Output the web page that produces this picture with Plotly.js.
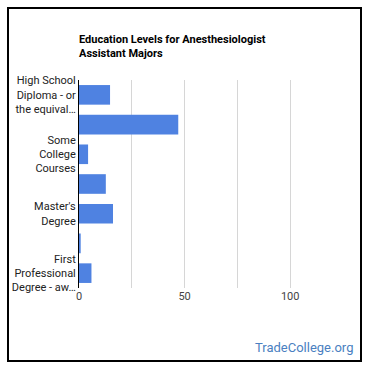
<!DOCTYPE html>
<html>
<head>
<meta charset="utf-8">
<script src="https://cdn.plot.ly/plotly-3.0.1.min.js"></script>
<style>
html,body{margin:0;padding:0;background:#fff;}
#wrap{position:relative;width:370px;height:370px;}
#chart{position:absolute;left:0;top:0;width:370px;height:370px;}
#frame{position:absolute;left:7px;top:7px;width:351px;height:351px;border:2px solid #000;pointer-events:none;}
</style>
</head>
<body>
<div id="wrap"><div id="chart"></div><div id="frame"></div></div>
<script>
const categories = [
  "High School Diploma - or the equivalent",
  "Post-Secondary Certificate",
  "Some College Courses",
  "Bachelor's Degree",
  "Master's Degree",
  "Post-Master's Certificate",
  "First Professional Degree - awarded"
];
const values = [14.7, 47.0, 4.3, 12.7, 16.1, 0.8, 5.9];
const shownCategories = [categories[0], categories[2], categories[4], categories[6]];
const shownLabels = [
  "High School<br>Diploma - or<br>the equival…",
  "Some<br>College<br>Courses",
  "Master's<br>Degree",
  "First<br>Professional<br>Degree - aw…"
];
const xTickVals = [0, 25, 50, 75, 100];
const xTickText = ["0", "", "50", "", "100"];

const trace = {
  type: "bar",
  orientation: "h",
  x: values,
  y: categories,
  marker: {color: "#4f82e1"},
  hoverinfo: "none"
};

const layout = {
  width: 370, height: 370,
  margin: {l: 79, r: 27, t: 80, b: 82},
  paper_bgcolor: "#fff", plot_bgcolor: "#fff",
  font: {family: "Roboto, Arial, sans-serif", size: 11, color: "#222"},
  bargap: 0.34,
  showlegend: false,
  title: {
    text: "<b>Education Levels for Anesthesiologist<br>Assistant Majors</b>",
    font: {family: "Roboto, Arial, sans-serif", size: 11, color: "#000"},
    xref: "paper", x: 0, xanchor: "left",
    yref: "container", y: 0.885, yanchor: "top"
  },
  xaxis: {
    range: [0, 125],
    tickvals: xTickVals, ticktext: xTickText,
    showgrid: true, gridcolor: "#d6d6d6", gridwidth: 1,
    zeroline: false, showline: false, ticks: "",
    tickfont: {size: 11, color: "#444"},
    fixedrange: true
  },
  yaxis: {
    type: "category",
    categoryorder: "array", categoryarray: categories,
    autorange: "reversed",
    tickvals: shownCategories, ticktext: shownLabels,
    showgrid: false, zeroline: false,
    showline: true, linecolor: "#000", linewidth: 1,
    ticks: "", ticklabelstandoff: 0,
    tickfont: {size: 11, color: "#222"},
    fixedrange: true
  },
  annotations: [{
    text: "TradeCollege.org",
    xref: "paper", yref: "paper", x: 1, y: 0,
    xanchor: "right", yanchor: "middle",
    xshift: 12, yshift: -59,
    showarrow: false,
    font: {family: "Roboto, Arial, sans-serif", size: 13, color: "#4a7fc1"}
  }]
};

Plotly.newPlot("chart", [trace], layout, {displayModeBar: false, staticPlot: true});
</script>
</body>
</html>
